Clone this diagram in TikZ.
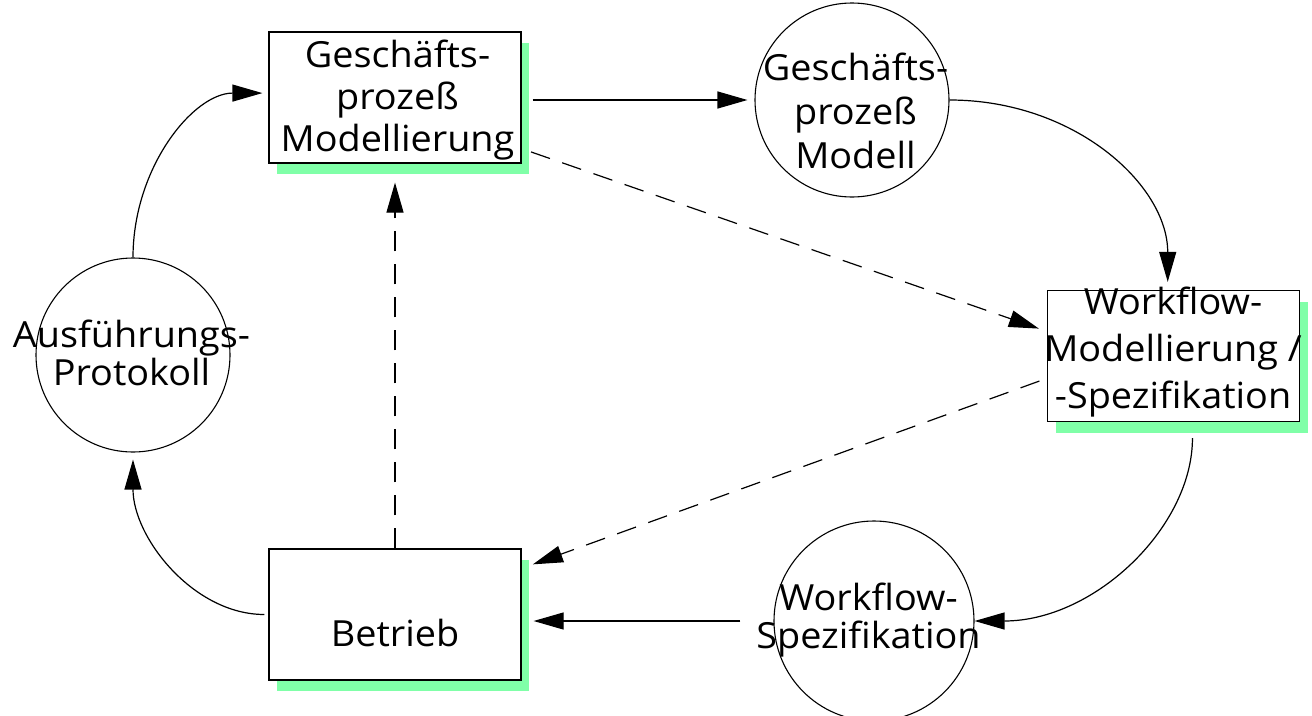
\documentclass[tikz,border=0pt]{standalone}
\usepackage{fontspec}
\setmainfont[FakeStretch=1.05]{Open Sans}
\usetikzlibrary{arrows.meta,shadows,calc}
\definecolor{mint}{RGB}{128,255,168}
\begin{document}
\begin{tikzpicture}[x=1pt,y=-1pt,
  box/.style={draw, line width=1.2pt, fill=white, minimum width=252pt, minimum height=131pt,
    inner sep=0pt, general shadow={fill=mint, shadow xshift=8pt, shadow yshift=-11pt}},
  disc/.style={draw, line width=1.1pt, circle, inner sep=0pt},
  lbl/.style={inner sep=0pt, align=center, anchor=base},
  arr/.style={line width=1.2pt, -{Triangle[length=30pt,width=17pt]}},
  dsh/.style={arr, dash pattern=on 20pt off 13pt},
]
\useasboundingbox (0,0) rectangle (1312,715);

% process boxes
\node[box] (b1) at (395,97.5) {};
\node[box] (b2) at (1173.5,356) {};
\node[box] (b3) at (395,614.5) {};

% data circles
\node[disc, minimum size=194pt] (c1) at (852,100) {};
\node[disc, minimum size=200pt] (c2) at (874,621) {};
\node[disc, minimum size=194pt] (c3) at (133,355) {};

% labels
\node[lbl, font=\fontsize{36}{42}\selectfont] (t1) at (397.5,151) {Geschäfts-\\prozeß\\Modellierung};
\node[lbl, font=\fontsize{36}{44}\selectfont] (t2) at (855.5,168) {Geschäfts-\\prozeß\\Modell};
\node[lbl, font=\fontsize{36}{47}\selectfont] (t3) at (1173,408) {Workflow-\\Modellierung /\\-Spezifikation};
\node[lbl, font=\fontsize{36}{38}\selectfont] (t4) at (868.5,648) {Workflow-\\Spezifikation};
\node[lbl, font=\fontsize{36}{38}\selectfont] (t5) at (395,646) {Betrieb};
\node[lbl, font=\fontsize{36}{38}\selectfont] (t6) at (131.5,385) {Ausführungs-\\Protokoll};

% main cycle
\draw[arr, shorten <=11pt, shorten >=7pt] (b1.east |- c1.west) -- (c1.west);
\draw[arr, shorten >=8pt] (c1.east) .. controls +(125,0) and +(0,-105) .. (b2.95.7);
\draw[arr, shorten <=16pt] (b2.-74) .. controls +(0,105) and +(120,0) .. (c2.east);
\draw[arr, shorten <=33pt, shorten >=12pt] (c2.west) -- (c2.west -| b3.east);
\draw[arr, shorten <=4pt, shorten >=7pt] (b3.west) .. controls +(-75,0) and +(0,85) .. (c3.south);
\draw[arr, shorten >=6pt] (c3.north) .. controls +(0,-90) and +(-75,0) .. (b1.178);

% feedback paths
\draw[dsh, shorten <=10pt, shorten >=8.5pt] (b1.-22.7) -- (b2.169.5);
\draw[dsh, shorten <=8pt, shorten >=12pt] (b2.-170.5) -- (b3.20.5);
\draw[dsh, shorten >=19pt] (b3.north) -- (b1.south);
\end{tikzpicture}
\end{document}
